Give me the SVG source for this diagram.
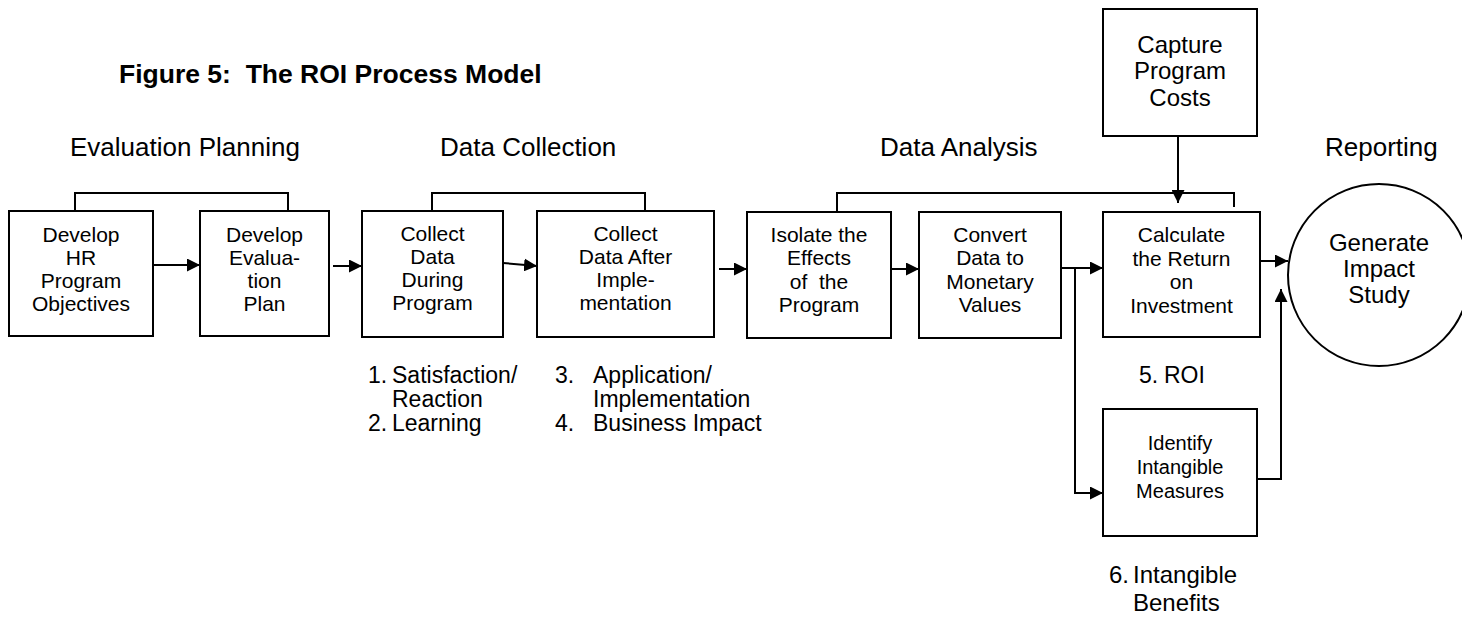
<svg xmlns="http://www.w3.org/2000/svg" width="1462" height="617" viewBox="0 0 1462 617">
<style>
text{font-family:"Liberation Sans",Arial,sans-serif;fill:#000}
.box{fill:#fff;stroke:#000;stroke-width:2}
.bt{font-size:21px;text-anchor:middle}
.hd{font-size:26px}
.ls{font-size:23px}
.ln{fill:none;stroke:#000;stroke-width:2}
</style>
<defs>
<marker id="ah" viewBox="0 0 10 10" refX="10" refY="5" markerWidth="13" markerHeight="13" markerUnits="userSpaceOnUse" orient="auto">
<path d="M0,0 L10,5 L0,10 Z" fill="#000"/>
</marker>
</defs>
<rect width="1462" height="617" fill="#fff"/>
<text x="119" y="83" style="font-size:26.5px;font-weight:bold;white-space:pre">Figure 5:  The ROI Process Model</text>
<g id="headings" class="hd">
<text x="70" y="156" class="hd">Evaluation Planning</text>
<text x="440" y="156" class="hd">Data Collection</text>
<text x="880" y="156" class="hd">Data Analysis</text>
<text x="1325" y="156" class="hd">Reporting</text>
</g>
<g id="connectors">
<polyline class="ln" points="75,211 75,193 288,193 288,211"/>
<polyline class="ln" points="432,211 432,193 645,193 645,211"/>
<polyline class="ln" points="837,212 837,193 1234,193 1234,207"/>
<line class="ln" x1="153" y1="265" x2="200" y2="265" marker-end="url(#ah)"/>
<line class="ln" x1="333" y1="266" x2="362" y2="266" marker-end="url(#ah)"/>
<line class="ln" x1="503" y1="263" x2="537" y2="266" marker-end="url(#ah)"/>
<line class="ln" x1="719" y1="269" x2="747" y2="269" marker-end="url(#ah)"/>
<line class="ln" x1="891" y1="269" x2="919" y2="269" marker-end="url(#ah)"/>
<line class="ln" x1="1061" y1="268" x2="1103" y2="268" marker-end="url(#ah)"/>
<polyline class="ln" points="1075,268 1075,493 1103,493" marker-end="url(#ah)"/>
<line class="ln" x1="1260" y1="261" x2="1288" y2="261" marker-end="url(#ah)"/>
<polyline class="ln" points="1257,479 1281,479 1281,289" marker-end="url(#ah)"/>
<line class="ln" x1="1178" y1="136" x2="1178" y2="203" marker-end="url(#ah)"/>
</g>
<g id="n1"><rect class="box" x="9" y="211" width="144" height="125"/>
<text class="bt" x="81" y="242">Develop</text><text class="bt" x="81" y="265">HR</text><text class="bt" x="81" y="288">Program</text><text class="bt" x="81" y="311">Objectives</text></g>
<g id="n2"><rect class="box" x="200" y="211" width="129" height="125"/>
<text class="bt" x="264.5" y="242">Develop</text><text class="bt" x="264.5" y="265">Evalua-</text><text class="bt" x="264.5" y="288">tion</text><text class="bt" x="264.5" y="311">Plan</text></g>
<g id="n3"><rect class="box" x="362" y="211" width="141" height="126"/>
<text class="bt" x="432.5" y="241">Collect</text><text class="bt" x="432.5" y="264">Data</text><text class="bt" x="432.5" y="287">During</text><text class="bt" x="432.5" y="310">Program</text></g>
<g id="n4"><rect class="box" x="537" y="211" width="177" height="126"/>
<text class="bt" x="625.5" y="241">Collect</text><text class="bt" x="625.5" y="264">Data After</text><text class="bt" x="625.5" y="287">Imple-</text><text class="bt" x="625.5" y="310">mentation</text></g>
<g id="n5"><rect class="box" x="747" y="212" width="144" height="126"/>
<text class="bt" x="819" y="242">Isolate the</text><text class="bt" x="819" y="265">Effects</text><text class="bt" x="819" y="289" style="white-space:pre">of  the</text><text class="bt" x="819" y="312">Program</text></g>
<g id="n6"><rect class="box" x="919" y="212" width="142" height="126"/>
<text class="bt" x="990" y="242">Convert</text><text class="bt" x="990" y="265">Data to</text><text class="bt" x="990" y="289">Monetary</text><text class="bt" x="990" y="312">Values</text></g>
<g id="n7"><rect class="box" x="1103" y="212" width="157" height="125"/>
<text class="bt" x="1181.5" y="242">Calculate</text><text class="bt" x="1181.5" y="266">the Return</text><text class="bt" x="1181.5" y="289">on</text><text class="bt" x="1181.5" y="313">Investment</text></g>
<g id="n8"><rect class="box" x="1103" y="9" width="154" height="127"/>
<text class="bt" style="font-size:24px" x="1180" y="53">Capture</text><text class="bt" style="font-size:24px" x="1180" y="79">Program</text><text class="bt" style="font-size:24px" x="1180" y="106">Costs</text></g>
<g id="n9"><rect class="box" x="1103" y="409" width="154" height="127"/>
<text class="bt" style="font-size:20px" x="1180" y="450">Identify</text><text class="bt" style="font-size:20px" x="1180" y="474">Intangible</text><text class="bt" style="font-size:20px" x="1180" y="498">Measures</text></g>
<g id="n10"><circle class="box" cx="1379" cy="275" r="91"/>
<text class="bt" style="font-size:24px" x="1379" y="251">Generate</text><text class="bt" style="font-size:24px" x="1379" y="277">Impact</text><text class="bt" style="font-size:24px" x="1379" y="303">Study</text></g>
<g id="labels" class="ls">
<text class="ls" x="368" y="383">1.</text><text class="ls" x="392" y="383">Satisfaction/</text>
<text class="ls" x="392" y="407">Reaction</text>
<text class="ls" x="368" y="431">2.</text><text class="ls" x="392" y="431">Learning</text>
<text class="ls" x="555" y="383">3.</text><text class="ls" x="593" y="383">Application/</text>
<text class="ls" x="593" y="407">Implementation</text>
<text class="ls" x="555" y="431">4.</text><text class="ls" x="593" y="431">Business Impact</text>
<text class="ls" x="1139" y="383">5.</text><text class="ls" x="1164" y="383">ROI</text>
<text x="1109" y="583" style="font-size:24px">6.</text><text x="1133" y="583" style="font-size:24px">Intangible</text>
<text x="1133" y="611" style="font-size:24px">Benefits</text>
</g>
</svg>
